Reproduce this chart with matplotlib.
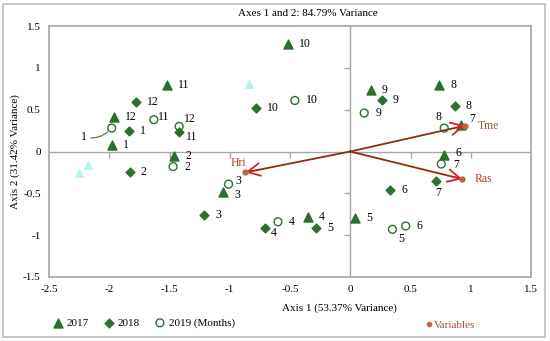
import matplotlib
matplotlib.use('Agg')
import matplotlib.pyplot as plt
from matplotlib.patches import Rectangle
from matplotlib.lines import Line2D
from matplotlib.markers import TICKDOWN, TICKLEFT

plt.rcParams['font.family'] = ['Liberation Serif', 'DejaVu Serif']

# month scores on axes 1 and 2
months_2017 = ['1', '2', '3', '4', '5', '6', '7', '8', '9', '10', '11', '12']
x_2017 = [-1.98, -1.46, -1.06, -0.35, 0.04, 0.78, 0.92, 0.74, 0.17, -0.52, -1.52, -1.96]
y_2017 = [0.08, -0.05, -0.49, -0.78, -0.80, -0.04, 0.32, 0.79, 0.735, 1.29, 0.79, 0.41]

months_2018 = ['1', '2', '3', '4', '5', '6', '7', '8', '9', '10', '11', '12']
x_2018 = [-1.84, -1.83, -1.21, -0.705, -0.285, 0.33, 0.71, 0.866, 0.26, -0.78, -1.42, -1.78]
y_2018 = [0.24, -0.25, -0.76, -0.91, -0.92, -0.46, -0.35, 0.54, 0.61, 0.52, 0.23, 0.595]

months_2019 = ['1', '2', '3', '4', '5', '6', '7', '8', '9', '10', '11', '12']
x_2019 = [-1.98, -1.47, -1.01, -0.60, 0.35, 0.46, 0.755, 0.78, 0.116, -0.46, -1.63, -1.42]
y_2019 = [0.28, -0.18, -0.39, -0.84, -0.93, -0.89, -0.15, 0.28, 0.46, 0.61, 0.38, 0.30]

# faint extra points
x_ghost = [-2.25, -2.18, -0.84]
y_ghost = [-0.26, -0.16, 0.81]

# variable loadings
var_names = ['Tme', 'Ras', 'Hri']
var_x = [0.955, 0.93, -0.87]
var_y = [0.31, -0.33, -0.25]

ticks_x = [-2.5, -2, -1.5, -1, -0.5, 0, 0.5, 1, 1.5]
ticks_y = [-1.5, -1, -0.5, 0, 0.5, 1, 1.5]

green = '#2E6E2E'
fs = 8
lfs = 8.5

fig = plt.figure(figsize=(5.5, 3.41), dpi=100)
fig.patches.append(Rectangle((3/550, 4/341), 542/550, 333/341, transform=fig.transFigure,
                             fill=False, edgecolor='#BDBDBD', linewidth=1.2))
ax = fig.add_axes([49/550, 1 - 277/341, 482/550, 251/341])
ax.set_xlim(-2.5, 1.5)
ax.set_ylim(-1.5, 1.5)
ax.set_xticks(ticks_x)
ax.set_yticks(ticks_y)
ax.set_xticklabels([('%g' % t) for t in ticks_x])
ax.set_yticklabels([('%g' % t) for t in ticks_y])
ax.tick_params(length=0, labelsize=fs, pad=6)
for s in ax.spines.values():
    s.set_color('#A6A6A6')
    s.set_linewidth(1.2)

# zero axes with small tick marks
ax.axhline(0, color='#A6A6A6', lw=1, zorder=1)
ax.axvline(0, color='#A6A6A6', lw=1, zorder=1)
inner_x = [t for t in ticks_x[1:-1] if t != 0]
inner_y = [t for t in ticks_y[1:-1] if t != 0]
ax.plot(inner_x, [0]*len(inner_x), ls='none', marker=TICKDOWN,
        ms=4, mew=1, color='#A6A6A6', zorder=1)
ax.plot([0]*len(inner_y), inner_y, ls='none', marker=TICKLEFT,
        ms=4, mew=1, color='#A6A6A6', zorder=1)

ax.scatter(x_ghost, y_ghost, marker='^', s=30, color='#B8F0F4', zorder=2)
ax.scatter(x_2017, y_2017, marker='^', s=42, color=green, zorder=3, label='2017')
ax.scatter(x_2018, y_2018, marker='D', s=20, color=green, zorder=3, label='2018')
ax.scatter(x_2019, y_2019, marker='o', s=32, facecolor='none', edgecolor=green,
           linewidth=1, zorder=3, label='2019 (Months)')

# label offsets in pixels (default is to the right)
special = {
    ('2019', '8'): (-6, 11, 'center'),
    ('2017', '7'): (8, 6, 'left'),
    ('2017', '6'): (11, 2, 'left'),
    ('2019', '7'): (12, -1, 'left'),
    ('2018', '7'): (2, -12, 'center'),
    ('2019', '5'): (9, -10, 'center'),
    ('2018', '4'): (6, -5, 'left'),
    ('2019', '11'): (4, 3, 'left'),
    ('2019', '12'): (5, 7, 'left'),
    ('2018', '11'): (7, -5, 'left'),
    ('2019', '3'): (7, 3, 'left'),
    ('2017', '3'): (12, -3, 'left'),
}
for yr, labs, xs, ys in [('2017', months_2017, x_2017, y_2017),
                         ('2018', months_2018, x_2018, y_2018),
                         ('2019', months_2019, x_2019, y_2019)]:
    for lab, x, y in zip(labs, xs, ys):
        if yr == '2019' and lab == '1':
            ax.annotate(lab, (x, y), xytext=(-25, -9), textcoords='offset pixels',
                        fontsize=lfs, ha='right', va='center',
                        arrowprops=dict(arrowstyle='-', color='#556B2F', lw=0.8,
                                        shrinkA=1, shrinkB=4,
                                        connectionstyle='arc3,rad=0.3'))
            continue
        dx, dy, ha = special.get((yr, lab), (11, 0, 'left'))
        ax.annotate(lab, (x, y), xytext=(dx, dy), textcoords='offset pixels',
                    fontsize=lfs, ha=ha, va='center')

# variable vectors
for name, vx, vy in zip(var_names, var_x, var_y):
    ax.plot([0, vx], [0, vy], color='#8E2E0E', lw=1.3, zorder=4)
    ax.annotate('', xy=(vx, vy), xytext=(vx*0.93, vy*0.93),
                arrowprops=dict(arrowstyle='->,head_length=0.9,head_width=0.45',
                                color='#D42222', lw=1.3, shrinkA=0, shrinkB=0), zorder=5)
    ax.scatter([vx], [vy], s=12, color='#C0623C', zorder=6)
    if name == 'Hri':
        ax.annotate(name, (vx, vy), xytext=(-7, 9), textcoords='offset pixels',
                    fontsize=lfs, ha='center', va='center', color='#C0392B')
    else:
        ax.annotate(name, (vx, vy), xytext=(12, 0), textcoords='offset pixels',
                    fontsize=lfs, ha='left', va='center',
                    color='#A0522D' if name == 'Tme' else '#C0392B')

fig.text(308/550, 1 - 14/341, 'Axes 1 and 2: 84.79% Variance', ha='center', va='center', fontsize=fs)
fig.text(339/550, 1 - 308/341, 'Axis 1 (53.37% Variance)', ha='center', va='center', fontsize=fs)
fig.text(15/550, 1 - 152/341, 'Axis 2 (31.42% Variance)', ha='center', va='center',
         rotation=90, fontsize=fs)

leg = fig.legend(loc='center', bbox_to_anchor=(143/550, 1 - 323/341), ncol=3, frameon=False,
                 fontsize=fs, handletextpad=0.2, columnspacing=1.2, handlelength=1.2)
vh = [Line2D([], [], ls='none', marker='o', ms=3, color='#C0623C')]
fig.legend(vh, ['Variables'], loc='center', bbox_to_anchor=(450/550, 1 - 325/341),
           frameon=False, fontsize=fs, handletextpad=0.1, handlelength=0.8,
           labelcolor='#A0522D')

fig.savefig('out.png', dpi=100)
